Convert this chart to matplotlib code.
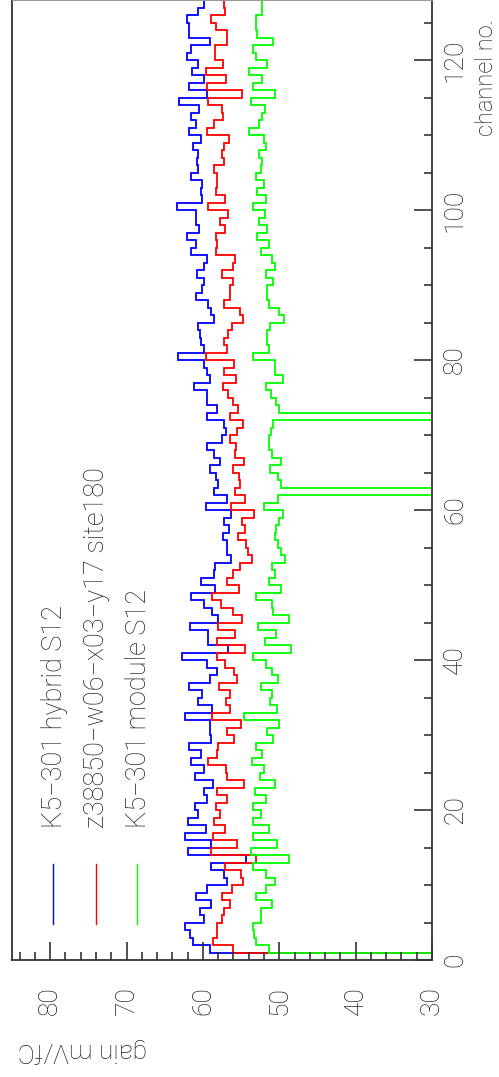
import numpy as np
import matplotlib
matplotlib.use("Agg")
import matplotlib.pyplot as plt
from matplotlib.ticker import MultipleLocator

plt.rcParams['font.family'] = ['Roboto', 'DejaVu Sans']

# channel 0..127, gain in mV/fC (0 = dead channel, off scale)
hybrid = [0, 59.1, 61.3, 61.7, 62.3, 59.8, 60.4, 58.9, 60.9, 59.5,
          56.8, 57.3, 59.0, 54.3, 61.9, 59.0, 62.4, 59.6, 62.0, 60.6,
          61.0, 59.5, 59.9, 58.7, 61.1, 59.9, 61.5, 60.2, 61.8, 58.9,
          59.1, 59.1, 62.4, 58.8, 60.7, 60.1, 61.8, 59.1, 58.2, 59.5,
          62.8, 56.7, 59.3, 59.3, 61.7, 58.0, 58.8, 59.9, 61.5, 58.4,
          60.2, 58.6, 58.4, 56.3, 56.8, 56.8, 57.4, 56.6, 57.2, 56.3,
          59.6, 56.8, 58.6, 58.0, 58.3, 59.1, 57.7, 58.5, 59.4, 57.5,
          57.0, 57.2, 59.4, 58.2, 59.4, 59.4, 61.2, 59.1, 59.5, 59.8,
          63.3, 59.8, 60.2, 60.4, 60.6, 58.5, 58.9, 59.3, 60.9, 60.1,
          59.8, 60.8, 59.8, 59.4, 61.5, 60.9, 62.1, 60.5, 60.9, 60.9,
          63.4, 60.1, 60.3, 60.1, 61.5, 60.6, 60.8, 60.6, 61.3, 60.3,
          61.8, 60.9, 61.6, 60.5, 63.1, 59.5, 61.8, 59.8, 61.4, 60.6,
          62.1, 61.5, 59.1, 61.8, 61.8, 62.1, 60.6, 59.8]

z38850 = [0, 56.0, 58.7, 58.2, 58.1, 57.5, 57.2, 56.5, 57.5, 56.2,
          54.8, 55.0, 57.1, 53.0, 59.0, 55.6, 58.7, 57.1, 58.5, 57.8,
          58.3, 56.8, 58.2, 54.6, 56.9, 57.0, 59.3, 58.2, 58.0, 55.9,
          56.9, 55.0, 58.8, 56.4, 57.0, 56.4, 57.9, 55.6, 55.9, 57.1,
          58.1, 54.5, 58.1, 55.8, 58.0, 54.9, 56.1, 57.6, 58.8, 55.3,
          56.8, 56.0, 55.2, 53.6, 54.1, 54.4, 55.4, 54.5, 54.9, 53.3,
          56.3, 54.5, 55.8, 55.1, 55.3, 56.1, 54.6, 55.8, 55.7, 56.5,
          55.6, 54.7, 56.5, 55.4, 56.0, 56.7, 57.4, 55.7, 57.3, 55.9,
          59.6, 56.8, 57.3, 56.7, 56.2, 54.8, 55.1, 57.2, 56.4, 56.5,
          56.0, 57.5, 56.0, 55.8, 58.3, 58.2, 58.3, 57.1, 57.8, 56.7,
          59.3, 57.1, 58.3, 58.1, 58.2, 58.6, 57.3, 57.5, 57.3, 56.6,
          59.5, 58.5, 57.4, 57.5, 59.3, 54.9, 59.5, 57.0, 59.6, 57.4,
          58.4, 58.4, 56.9, 56.9, 58.3, 59.0, 57.1, 57.2]

module = [0, 51.3, 53.1, 53.3, 53.4, 52.4, 52.4, 51.0, 53.1, 51.7,
          50.6, 51.7, 53.4, 48.7, 53.7, 50.3, 53.4, 51.3, 53.4, 52.4,
          53.4, 51.7, 53.2, 50.6, 52.5, 52.0, 53.6, 52.3, 53.0, 50.8,
          51.6, 50.1, 54.6, 50.3, 51.2, 50.9, 52.4, 50.2, 50.9, 51.7,
          53.4, 48.5, 51.9, 50.4, 52.8, 48.7, 50.8, 51.0, 53.1, 49.8,
          51.4, 50.6, 51.0, 49.2, 49.8, 50.2, 50.6, 50.4, 50.0, 49.5,
          52.0, 50.2, 0, 49.8, 50.2, 51.2, 49.8, 51.0, 51.3, 51.3,
          51.1, 50.8, 0, 50.1, 50.4, 51.1, 51.7, 49.5, 50.6, 50.6,
          53.5, 51.3, 51.6, 51.6, 51.2, 49.4, 50.0, 51.3, 51.6, 51.6,
          50.8, 51.7, 50.6, 51.0, 52.4, 51.3, 52.9, 51.6, 52.6, 51.9,
          53.4, 51.7, 52.9, 52.0, 53.1, 52.4, 52.2, 52.7, 51.7, 52.0,
          53.9, 52.6, 52.2, 51.9, 53.7, 50.6, 53.5, 52.2, 53.9, 51.6,
          53.0, 53.5, 50.8, 52.9, 53.1, 53.1, 52.2, 52.2]

labels = ["K5\u2212301 hybrid S12",
          "z38850\u2212w06\u2212x03\u2212y17 site180",
          "K5\u2212301 module S12"]
colors = ["#0000ff", "#ff0000", "#00ff00"]

edges = np.arange(len(hybrid) + 1)
txt = "#222222"

fig = plt.figure(figsize=(4.99, 10.77), dpi=100)
ax = fig.add_axes([12 / 499, 1 - 960 / 1077, 420 / 499, 960 / 1077])

for vals, c in zip([hybrid, z38850, module], colors):
    ax.stairs(vals, edges, orientation='horizontal', baseline=None,
              color=c, lw=1.3)

ax.set_xlim(85, 30)
ax.set_ylim(0, 128)

ax.xaxis.set_major_locator(MultipleLocator(10))
ax.xaxis.set_minor_locator(MultipleLocator(2))
ax.yaxis.set_major_locator(MultipleLocator(20))
ax.yaxis.set_minor_locator(MultipleLocator(5))
ax.yaxis.tick_right()
ax.tick_params(which='both', direction='in', colors=txt, width=1.1,
               labelsize=19, labelcolor=txt)
ax.tick_params(which='major', length=13)
ax.tick_params(which='minor', length=6)
ax.tick_params(axis='x', pad=19, labelrotation=90)
ax.tick_params(axis='y', pad=8, labelrotation=90, left=False, right=True)
for lab in ax.get_yticklabels():
    lab.set_verticalalignment('center')
for lab in ax.get_xticklabels() + ax.get_yticklabels():
    lab.set_fontweight('light')

for s in ['bottom', 'right', 'left']:
    ax.spines[s].set_color('#333333')
    ax.spines[s].set_linewidth(1.3)
ax.spines['top'].set_color('#999999')

# legend drawn rotated like the rest of the plot
leg_x = [53, 96, 137]
for lx, c, lab in zip(leg_x, colors, labels):
    xf = lx / 499
    fig.add_artist(plt.Line2D([xf, xf], [1 - 924 / 1077, 1 - 864 / 1077],
                              color=c, lw=1.0))
    fig.text(xf + 1 / 499, 1 - 828 / 1077, lab, rotation=90, ha='center',
             va='bottom', fontsize=19.5, color=txt, fontweight='light')

fig.text(82 / 499, 1 - 1050 / 1077, "gain mV/fC", rotation=180,
         ha='center', va='center', fontsize=19, color=txt, fontweight='light')
fig.text(498 / 499, 1 - 136 / 1077, "channel no.", rotation=90,
         ha='right', va='bottom', fontsize=17, color=txt, fontweight='light')

fig.savefig("out.png", dpi=100)
